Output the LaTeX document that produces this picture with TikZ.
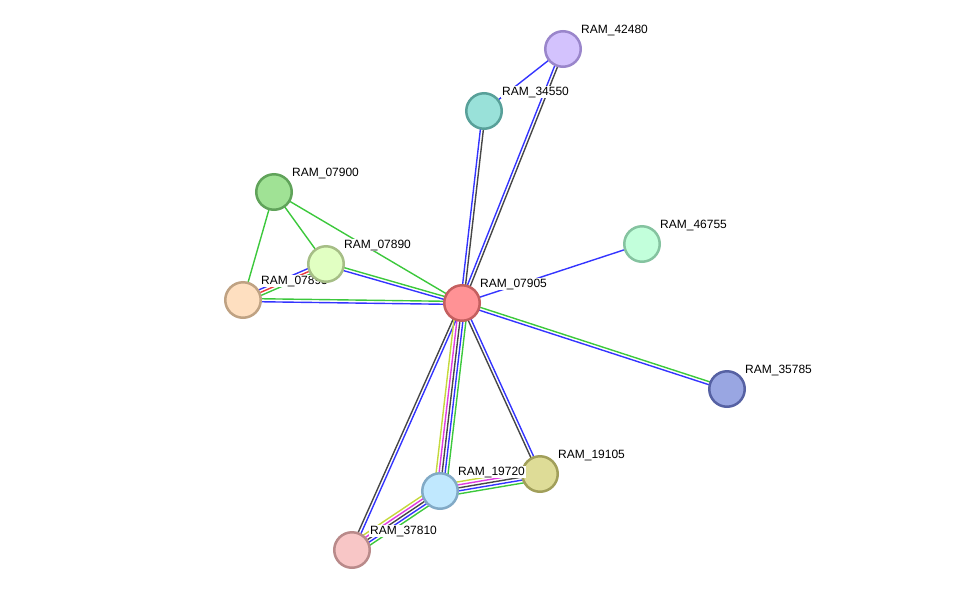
\documentclass[tikz,border=0pt]{standalone}
\usepackage{fontspec}
\setmainfont{Liberation Sans}
\usetikzlibrary{calc,backgrounds}
% protein fills and borders
\definecolor{f42480}{HTML}{D3C2FD}\definecolor{d42480}{HTML}{9A86CB}
\definecolor{f34550}{HTML}{99E1D9}\definecolor{d34550}{HTML}{58A099}
\definecolor{f07900}{HTML}{A0E295}\definecolor{d07900}{HTML}{60A35A}
\definecolor{f07895}{HTML}{FEDFC0}\definecolor{d07895}{HTML}{BFA283}
\definecolor{f07890}{HTML}{E1FFC2}\definecolor{d07890}{HTML}{A6BE86}
\definecolor{f07905}{HTML}{FF9295}\definecolor{d07905}{HTML}{C45F5F}
\definecolor{f46755}{HTML}{C2FFDB}\definecolor{d46755}{HTML}{85C3A0}
\definecolor{f35785}{HTML}{99A6E2}\definecolor{d35785}{HTML}{5661A3}
\definecolor{f19105}{HTML}{DEDC97}\definecolor{d19105}{HTML}{A19F5A}
\definecolor{f19720}{HTML}{C0E8FE}\definecolor{d19720}{HTML}{82AAC6}
\definecolor{f37810}{HTML}{F8C6C6}\definecolor{d37810}{HTML}{B98A8A}
% evidence channels
\definecolor{lkblue}{HTML}{3434FF}
\definecolor{lkgray}{HTML}{474747}
\definecolor{lkgreen}{HTML}{3CC83C}
\definecolor{lkyellow}{HTML}{C5D83C}
\definecolor{lkmag}{HTML}{E03CE0}
\definecolor{lkred}{HTML}{E83C3C}
\tikzset{
  prot/.style = {circle,line width=2.5pt,minimum size=35.5pt,inner sep=0pt},
  lbl/.style  = {anchor=west,inner sep=0.8pt,fill=white,
                 font=\fontsize{12}{14}\selectfont},
  link/.style = {line width=1.4pt},
}
% parallel lines between two proteins, one per colour
\newcommand\linkedge[3]{%
  \foreach \col [count=\k] in {#3}{\xdef\nlinks{\k}}%
  \foreach \col [count=\k] in {#3}{%
    \pgfmathsetmacro\lnoff{(\k-(\nlinks+1)/2)*3}%
    \draw[link,draw=\col] ($(#1)!\lnoff pt!90:(#2)$)
                       -- ($(#2)!\lnoff pt!-90:(#1)$);}}

\begin{document}
\begin{tikzpicture}[x=1pt,y=-1pt]
  \useasboundingbox (0,0) rectangle (975,595);
  % Proteins with labels
  \foreach \id/\x/\y in {42480/563/49, 34550/484/111, 07900/274/192,
                         07895/243/300, 07890/326/264, 07905/462/303,
                         46755/642/244, 35785/727/389, 19105/540/474,
                         19720/440/491, 37810/352/550}{
    \node[prot,fill=f\id,draw=d\id] (n\id) at (\x,\y) {};
    \node[lbl] (l\id) at ($(n\id)+(17.2,-19)$) {RAM\_\id};
  }
  % Links
  \begin{scope}[on background layer]
    \linkedge{n42480}{n34550}{lkblue}
    \linkedge{n42480}{n07905}{lkblue,lkgray}
    \linkedge{n34550}{n07905}{lkblue,lkgray}
    \linkedge{n07900}{n07890}{lkgreen}
    \linkedge{n07900}{n07895}{lkgreen}
    \linkedge{n07900}{n07905}{lkgreen}
    \linkedge{n07890}{n07895}{lkblue,lkred,lkgreen}
    \linkedge{n07905}{n07890}{lkgreen,lkblue}
    \linkedge{n07905}{n07895}{lkgreen,lkblue}
    \linkedge{n07905}{n46755}{lkblue}
    \linkedge{n35785}{n07905}{lkgreen,lkblue}
    \linkedge{n07905}{n19105}{lkgray,lkblue}
    \linkedge{n07905}{n37810}{lkgray,lkblue}
    \linkedge{n07905}{n19720}{lkyellow,lkmag,lkgray,lkblue,lkgreen}
    \linkedge{n19105}{n19720}{lkyellow,lkmag,lkgray,lkblue,lkgreen}
    \linkedge{n19720}{n37810}{lkyellow,lkmag,lkgray,lkblue,lkgreen}
  \end{scope}
\end{tikzpicture}
\end{document}
